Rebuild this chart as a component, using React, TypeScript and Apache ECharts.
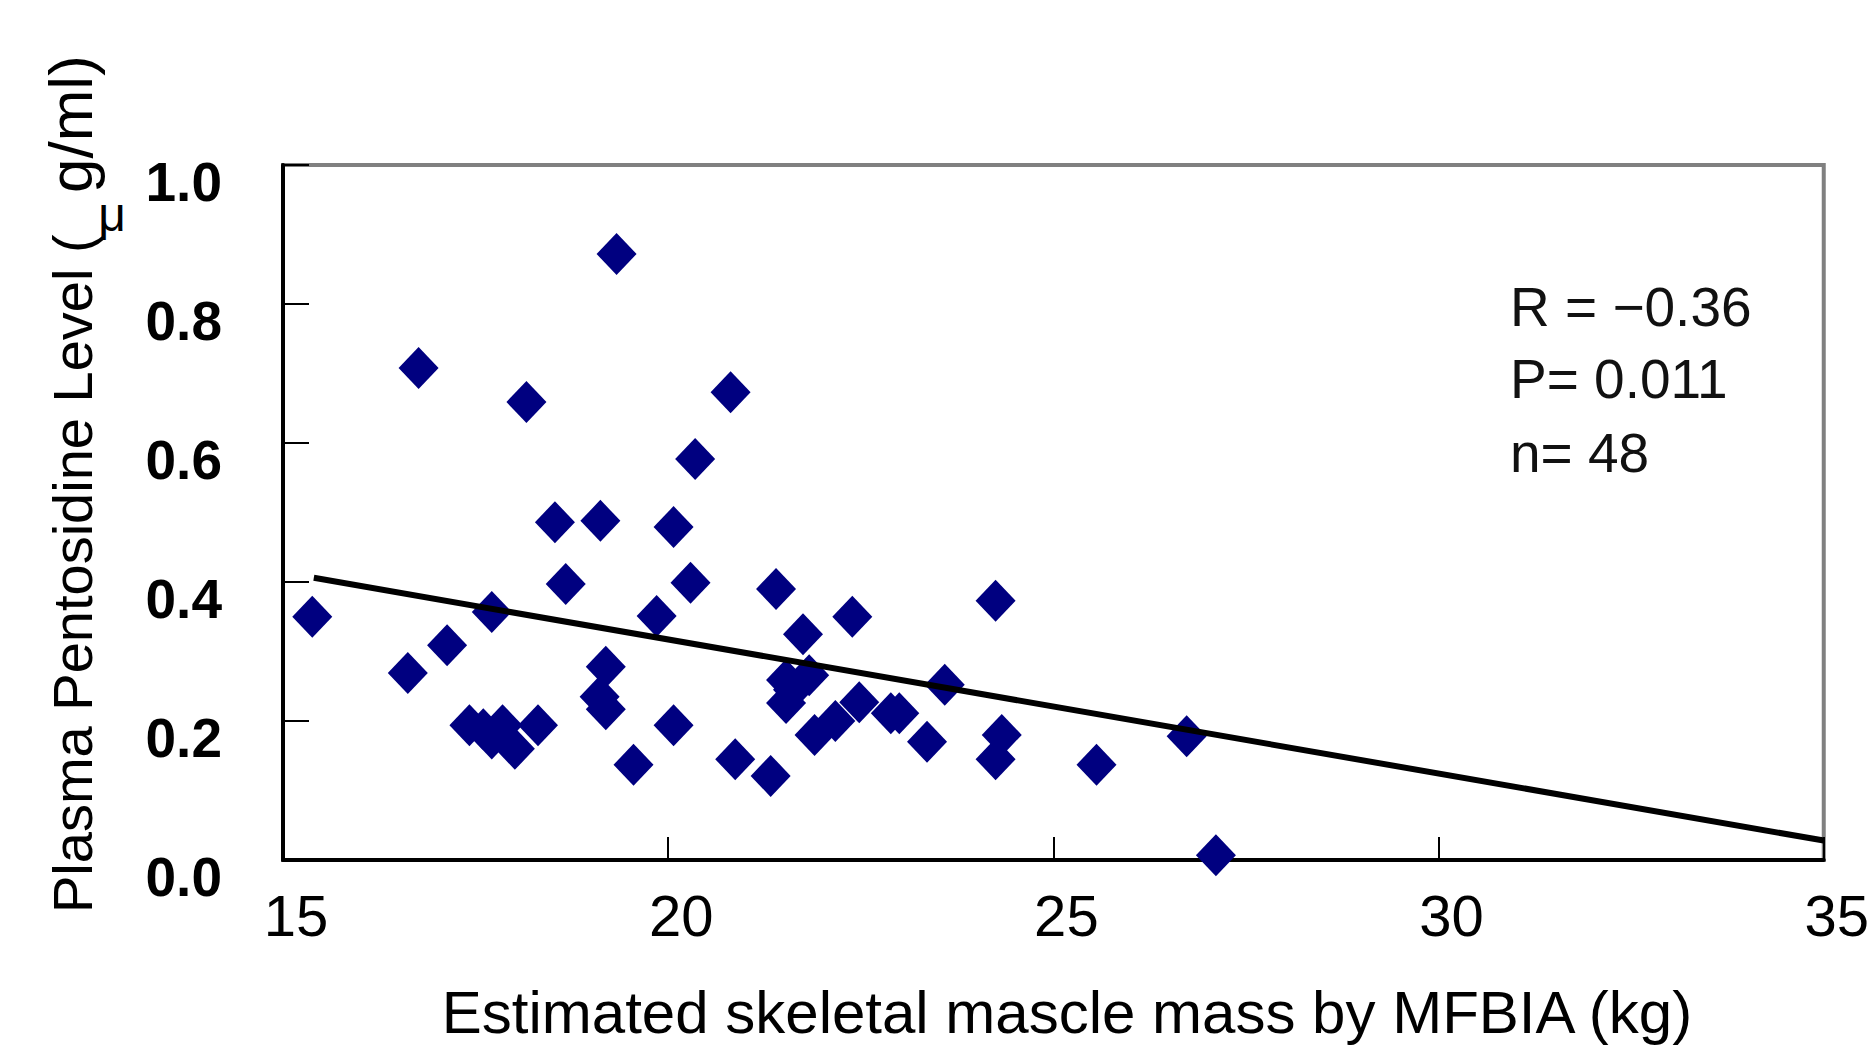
import React, { useEffect, useRef } from "react";
import * as echarts from "echarts";

// Estimated skeletal muscle mass (kg)
const massKg = [
  15.38, 16.76, 19.33, 18.16, 20.81, 20.35, 18.53, 19.12, 20.07, 18.67,
  20.29, 21.4, 24.25, 17.71, 19.85, 22.39, 21.75, 17.13, 16.62, 19.19,
  21.53, 21.83, 23.59, 19.11, 19.19, 21.53, 22.48, 22.89, 23.0, 17.42,
  17.85, 18.31, 17.71, 18.01, 20.07, 22.17, 21.9, 23.36, 24.33, 24.25,
  26.73, 25.56, 20.87, 21.33, 19.55, 27.11, 17.6, 21.62,
];
// Plasma pentosidine level (µg/ml)
const pentosidine = [
  0.35, 0.708, 0.872, 0.659, 0.673, 0.577, 0.486, 0.488, 0.479, 0.397,
  0.399, 0.39, 0.373, 0.357, 0.351, 0.35, 0.325, 0.309, 0.269, 0.278,
  0.259, 0.266, 0.252, 0.235, 0.217, 0.226, 0.227, 0.211, 0.211, 0.194,
  0.194, 0.194, 0.175, 0.16, 0.194, 0.2, 0.18, 0.17, 0.18, 0.145,
  0.178, 0.137, 0.145, 0.121, 0.137, 0.007, 0.188, 0.245,
];
// Regression line end points
const trendX = [15.4, 35];
const trendY = [0.406, 0.028];

const xTicks = { min: 15, max: 35, interval: 5 };
const yTicks = { min: 0, max: 1, interval: 0.2 };

const statLines = ["R = \u22120.36", "P= 0.011", "n= 48"];
const xTitle = "Estimated skeletal mascle mass by MFBIA (kg)";
const yTitleA = "Plasma Pentosidine Level (";
const yTitleMu = "\u03bc";
const yTitleB = "g/ml)";

const FONT = "Arial, 'Liberation Sans', sans-serif";

export default function App() {
  const ref = useRef<HTMLDivElement>(null);
  useEffect(() => {
    document.body.style.margin = "0";
    const chart = echarts.init(ref.current!, undefined, { renderer: "svg" });
    const points = massKg.map((x, i) => [x, pentosidine[i]]);
    const trend = trendX.map((x, i) => [x, trendY[i]]);
    chart.setOption({
      animation: false,
      backgroundColor: "#ffffff",
      grid: {
        left: 283,
        right: 46,
        top: 165,
        bottom: 185,
        show: true,
        borderColor: "#808080",
        borderWidth: 4,
        backgroundColor: "transparent",
      },
      xAxis: {
        type: "value",
        min: xTicks.min,
        max: xTicks.max,
        interval: xTicks.interval,
        splitLine: { show: false },
        axisLine: { show: true, onZero: false, lineStyle: { color: "#000", width: 4 } },
        axisTick: { show: true, inside: true, length: 23, lineStyle: { color: "#000", width: 2 } },
        axisLabel: {
          color: "#000",
          fontFamily: FONT,
          fontSize: 58,
          margin: 26,
          padding: [0, 0, 0, 26],
          showMinLabel: true,
          showMaxLabel: true,
        },
      },
      yAxis: {
        type: "value",
        min: yTicks.min,
        max: yTicks.max,
        interval: yTicks.interval,
        splitLine: { show: false },
        axisLine: { show: true, onZero: false, lineStyle: { color: "#000", width: 4 } },
        axisTick: { show: true, inside: true, length: 26, lineStyle: { color: "#000", width: 2 } },
        axisLabel: {
          color: "#000",
          fontFamily: FONT,
          fontSize: 55,
          fontWeight: "bold",
          margin: 61,
          verticalAlign: "top",
          lineHeight: 34,
          formatter: (v: number) => v.toFixed(1),
        },
      },
      series: [
        {
          type: "scatter",
          data: points,
          symbol: "diamond",
          symbolSize: [40, 42],
          itemStyle: { color: "#000080", opacity: 1 },
          z: 2,
        },
        {
          type: "line",
          data: trend,
          symbol: "none",
          lineStyle: { color: "#000", width: 6 },
          z: 3,
        },
      ],
      graphic: [
        {
          type: "text",
          x: 72,
          y: 913,
          rotation: Math.PI / 2,
          style: {
            text: yTitleA,
            font: `56px ${FONT}`,
            fill: "#000",
            textAlign: "left",
            textVerticalAlign: "middle",
          },
        },
        {
          type: "text",
          x: 112,
          y: 214,
          style: {
            text: yTitleMu,
            font: `48px ${FONT}`,
            fill: "#000",
            textAlign: "center",
            textVerticalAlign: "middle",
          },
        },
        {
          type: "text",
          x: 70,
          y: 193,
          rotation: Math.PI / 2,
          style: {
            text: yTitleB,
            font: `62px ${FONT}`,
            fill: "#000",
            textAlign: "left",
            textVerticalAlign: "middle",
          },
        },
        {
          type: "text",
          x: 1067,
          y: 1012,
          style: {
            text: xTitle,
            font: `60px ${FONT}`,
            fill: "#000",
            textAlign: "center",
            textVerticalAlign: "middle",
          },
        },
        ...statLines.map((t, i) => ({
          type: "text",
          x: 1510,
          y: [307, 379, 453][i],
          style: {
            text: t,
            font: `55px ${FONT}`,
            fill: "#111",
            textAlign: "left",
            textVerticalAlign: "middle",
          },
        })),
      ],
    });
    return () => chart.dispose();
  }, []);
  return (
    <div
      ref={ref}
      style={{ position: "fixed", left: 0, top: 0, width: 1872, height: 1045 }}
    />
  );
}
